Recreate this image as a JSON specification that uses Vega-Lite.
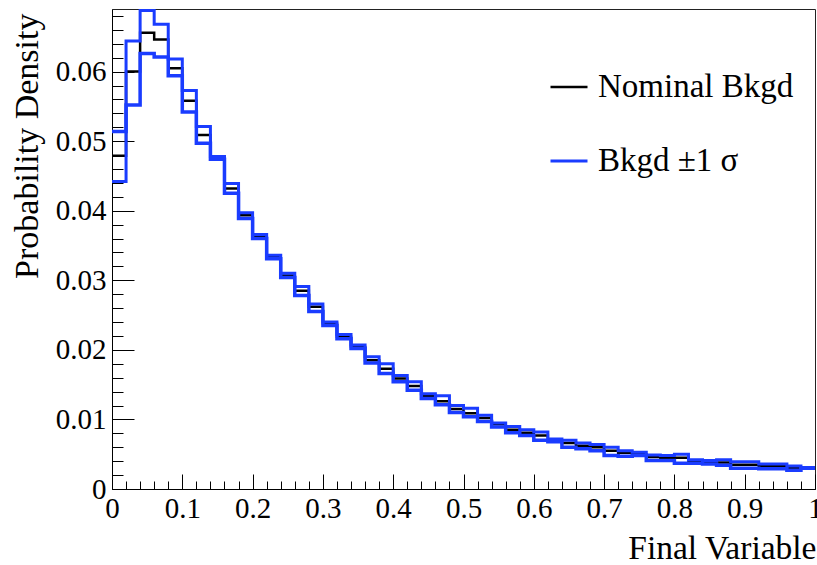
{
  "$schema": "https://vega.github.io/schema/vega-lite/v6.json",
  "width": 703,
  "height": 480,
  "autosize": {"type": "none"},
  "padding": {"left": 112, "top": 9, "right": 2, "bottom": 76},
  "background": "white",
  "config": {
    "view": {"stroke": "#222", "strokeWidth": 1},
    "font": "Liberation Serif, Times New Roman, serif"
  },
  "data": {
    "values": [
      {"lo": 0.00, "hi": 0.02, "nom": 0.0479, "up": 0.0442, "dn": 0.0514},
      {"lo": 0.02, "hi": 0.04, "nom": 0.0600, "up": 0.0644, "dn": 0.0552},
      {"lo": 0.04, "hi": 0.06, "nom": 0.0656, "up": 0.0688, "dn": 0.0626},
      {"lo": 0.06, "hi": 0.08, "nom": 0.0646, "up": 0.0668, "dn": 0.0621},
      {"lo": 0.08, "hi": 0.10, "nom": 0.0605, "up": 0.0618, "dn": 0.0594},
      {"lo": 0.10, "hi": 0.12, "nom": 0.0558, "up": 0.0573, "dn": 0.0542},
      {"lo": 0.12, "hi": 0.14, "nom": 0.0509, "up": 0.0521, "dn": 0.0497},
      {"lo": 0.14, "hi": 0.16, "nom": 0.0476, "up": 0.0478, "dn": 0.0474},
      {"lo": 0.16, "hi": 0.18, "nom": 0.0432, "up": 0.0439, "dn": 0.0425},
      {"lo": 0.18, "hi": 0.20, "nom": 0.03935, "up": 0.0397, "dn": 0.0389},
      {"lo": 0.20, "hi": 0.22, "nom": 0.0363, "up": 0.0366, "dn": 0.0360},
      {"lo": 0.22, "hi": 0.24, "nom": 0.0334, "up": 0.0336, "dn": 0.0331},
      {"lo": 0.24, "hi": 0.26, "nom": 0.0307, "up": 0.0310, "dn": 0.0304},
      {"lo": 0.26, "hi": 0.28, "nom": 0.0285, "up": 0.0291, "dn": 0.0278},
      {"lo": 0.28, "hi": 0.30, "nom": 0.0262, "up": 0.0266, "dn": 0.0255},
      {"lo": 0.30, "hi": 0.32, "nom": 0.0238, "up": 0.0240, "dn": 0.0235},
      {"lo": 0.32, "hi": 0.34, "nom": 0.0219, "up": 0.0222, "dn": 0.0216},
      {"lo": 0.34, "hi": 0.36, "nom": 0.0204, "up": 0.0207, "dn": 0.0202},
      {"lo": 0.36, "hi": 0.38, "nom": 0.0185, "up": 0.0190, "dn": 0.0181},
      {"lo": 0.38, "hi": 0.40, "nom": 0.0173, "up": 0.0180, "dn": 0.0166},
      {"lo": 0.40, "hi": 0.42, "nom": 0.0159, "up": 0.0163, "dn": 0.0154},
      {"lo": 0.42, "hi": 0.44, "nom": 0.0148, "up": 0.0154, "dn": 0.0142},
      {"lo": 0.44, "hi": 0.46, "nom": 0.0134, "up": 0.0137, "dn": 0.0130},
      {"lo": 0.46, "hi": 0.48, "nom": 0.0126, "up": 0.0134, "dn": 0.0121},
      {"lo": 0.48, "hi": 0.50, "nom": 0.0115, "up": 0.0120, "dn": 0.0110},
      {"lo": 0.50, "hi": 0.52, "nom": 0.0109, "up": 0.0116, "dn": 0.0104},
      {"lo": 0.52, "hi": 0.54, "nom": 0.0102, "up": 0.0106, "dn": 0.0097},
      {"lo": 0.54, "hi": 0.56, "nom": 0.0093, "up": 0.0095, "dn": 0.0089},
      {"lo": 0.56, "hi": 0.58, "nom": 0.0085, "up": 0.0090, "dn": 0.0081},
      {"lo": 0.58, "hi": 0.60, "nom": 0.0081, "up": 0.0085, "dn": 0.0077},
      {"lo": 0.60, "hi": 0.62, "nom": 0.0077, "up": 0.0082, "dn": 0.0070},
      {"lo": 0.62, "hi": 0.64, "nom": 0.0070, "up": 0.0072, "dn": 0.0068},
      {"lo": 0.64, "hi": 0.66, "nom": 0.0066, "up": 0.0070, "dn": 0.0060},
      {"lo": 0.66, "hi": 0.68, "nom": 0.0062, "up": 0.0066, "dn": 0.0058},
      {"lo": 0.68, "hi": 0.70, "nom": 0.0060, "up": 0.0064, "dn": 0.0055},
      {"lo": 0.70, "hi": 0.72, "nom": 0.0055, "up": 0.0060, "dn": 0.0048},
      {"lo": 0.72, "hi": 0.74, "nom": 0.0052, "up": 0.0055, "dn": 0.0047},
      {"lo": 0.74, "hi": 0.76, "nom": 0.0050, "up": 0.0053, "dn": 0.0048},
      {"lo": 0.76, "hi": 0.78, "nom": 0.0046, "up": 0.0049, "dn": 0.0041},
      {"lo": 0.78, "hi": 0.80, "nom": 0.0045, "up": 0.0048, "dn": 0.0041},
      {"lo": 0.80, "hi": 0.82, "nom": 0.0045, "up": 0.0050, "dn": 0.0037},
      {"lo": 0.82, "hi": 0.84, "nom": 0.0040, "up": 0.0042, "dn": 0.0037},
      {"lo": 0.84, "hi": 0.86, "nom": 0.0039, "up": 0.0041, "dn": 0.0036},
      {"lo": 0.86, "hi": 0.88, "nom": 0.0038, "up": 0.0042, "dn": 0.0034},
      {"lo": 0.88, "hi": 0.90, "nom": 0.0035, "up": 0.0039, "dn": 0.0030},
      {"lo": 0.90, "hi": 0.92, "nom": 0.0035, "up": 0.0039, "dn": 0.0030},
      {"lo": 0.92, "hi": 0.94, "nom": 0.0033, "up": 0.0036, "dn": 0.0029},
      {"lo": 0.94, "hi": 0.96, "nom": 0.0033, "up": 0.0036, "dn": 0.0029},
      {"lo": 0.96, "hi": 0.98, "nom": 0.0030, "up": 0.0033, "dn": 0.0027},
      {"lo": 0.98, "hi": 1.00, "nom": 0.0030, "up": 0.0031, "dn": 0.0030}
    ]
  },
  "transform": [
    {"fold": ["nom", "up", "dn"], "as": ["series", "dens"]},
    {"fold": ["lo", "hi"], "as": ["edge", "xv"]}
  ],
  "mark": {"type": "line", "interpolate": "linear", "clip": true},
  "encoding": {
    "x": {
      "field": "xv",
      "type": "quantitative",
      "scale": {"domain": [0, 1], "nice": false, "zero": false},
      "axis": {
        "values": [0,0.02,0.04,0.06,0.08,0.1,0.12,0.14,0.16,0.18,0.2,0.22,0.24,0.26,0.28,0.3,0.32,0.34,0.36,0.38,0.4,0.42,0.44,0.46,0.48,0.5,0.52,0.54,0.56,0.58,0.6,0.62,0.64,0.66,0.68,0.7,0.72,0.74,0.76,0.78,0.8,0.82,0.84,0.86,0.88,0.9,0.92,0.94,0.96,0.98,1],
        "format": "~g",
        "labelExpr": "abs(datum.value*10 - round(datum.value*10)) < 0.001 ? datum.label : ''",
        "labelOverlap": false,
        "labelFlush": false,
        "labelBound": false,
        "labelFont": "Liberation Serif, Times New Roman, serif",
        "labelFontSize": 29,
        "labelColor": "black",
        "labelPadding": 20,
        "labelBaseline": "top",
        "tickColor": "black",
        "tickWidth": 1,
        "tickSize": {"condition": {"test": "abs(datum.value*10 - round(datum.value*10)) < 0.001", "value": -15}, "value": -8},
        "domainColor": "black",
        "domainWidth": 1,
        "grid": false,
        "title": "Final Variable",
        "titleFont": "Liberation Serif, Times New Roman, serif",
        "titleFontSize": 33.5,
        "titleFontWeight": "normal",
        "titleColor": "black",
        "titleAnchor": "end",
        "titleAlign": "right",
        "titleBaseline": "alphabetic",
        "titleX": 704,
        "titleY": 69
      }
    },
    "y": {
      "field": "dens",
      "type": "quantitative",
      "scale": {"domain": [0, 0.069], "nice": false},
      "axis": {
        "values": [0,0.002,0.004,0.006,0.008,0.01,0.012,0.014,0.016,0.018,0.02,0.022,0.024,0.026,0.028,0.03,0.032,0.034,0.036,0.038,0.04,0.042,0.044,0.046,0.048,0.05,0.052,0.054,0.056,0.058,0.06,0.062,0.064,0.066,0.068],
        "format": ".2~f",
        "labelExpr": "abs(datum.value*100 - round(datum.value*100)) < 0.001 ? datum.label : ''",
        "labelOverlap": false,
        "labelFlush": false,
        "labelBound": false,
        "labelFont": "Liberation Serif, Times New Roman, serif",
        "labelFontSize": 29,
        "labelColor": "black",
        "labelPadding": 28,
        "tickColor": "black",
        "tickWidth": 1,
        "tickSize": {"condition": {"test": "abs(datum.value*100 - round(datum.value*100)) < 0.001", "value": -22}, "value": -11},
        "domainColor": "black",
        "domainWidth": 1,
        "grid": false,
        "title": "Probability Density",
        "titleFont": "Liberation Serif, Times New Roman, serif",
        "titleFontSize": 34,
        "titleFontWeight": "normal",
        "titleColor": "black",
        "titleAngle": -90,
        "titleAlign": "right",
        "titleBaseline": "alphabetic",
        "titleX": -75,
        "titleY": 4
      }
    },
    "color": {
      "field": "series",
      "type": "nominal",
      "scale": {"domain": ["nom", "up", "dn"], "range": ["black", "#1a3cff", "#1a3cff"]},
      "legend": {
        "orient": "none",
        "legendX": 437,
        "legendY": 58,
        "values": ["nom", "up"],
        "title": null,
        "symbolType": "stroke",
        "symbolSize": 1369,
        "labelExpr": "datum.value == 'nom' ? 'Nominal Bkgd' : 'Bkgd ±1 σ'",
        "labelFont": "Liberation Serif, Times New Roman, serif",
        "labelFontSize": 33,
        "labelColor": "black",
        "labelLimit": 400,
        "labelOffset": 9,
        "rowPadding": 37,
        "padding": 0
      }
    },
    "strokeWidth": {
      "field": "series",
      "type": "nominal",
      "scale": {"domain": ["nom", "up", "dn"], "range": [2.5, 3.5, 3.5]},
      "legend": {
        "orient": "none",
        "legendX": 437,
        "legendY": 58,
        "values": ["nom", "up"],
        "title": null,
        "symbolType": "stroke",
        "symbolSize": 1369,
        "labelExpr": "datum.value == 'nom' ? 'Nominal Bkgd' : 'Bkgd ±1 σ'",
        "labelFont": "Liberation Serif, Times New Roman, serif",
        "labelFontSize": 33,
        "labelColor": "black",
        "labelLimit": 400,
        "labelOffset": 9,
        "rowPadding": 37,
        "padding": 0
      }
    },
    "order": [{"field": "xv", "type": "quantitative"}, {"field": "edge", "type": "nominal"}]
  }
}
